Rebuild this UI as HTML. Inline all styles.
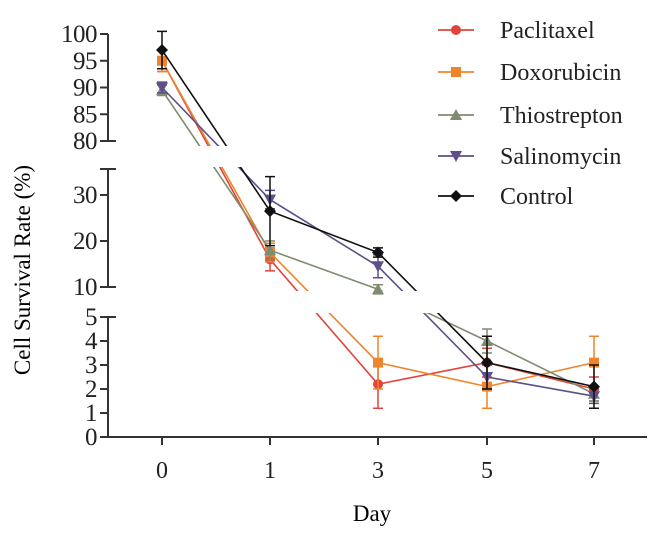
<!DOCTYPE html>
<html><head><meta charset="utf-8"><style>
body{margin:0;background:#fff}
svg{display:block;font-family:"Liberation Serif",serif}
</style></head><body>
<svg id="chart" width="667" height="533" viewBox="0 0 667 533">
<defs>
<clipPath id="cTop"><rect x="110" y="20" width="540" height="126"/></clipPath>
<clipPath id="cMid"><rect x="110" y="167" width="540" height="124"/></clipPath>
<clipPath id="cBot"><rect x="110" y="313" width="540" height="130"/></clipPath>
</defs>
<g id="axes"></g>
<g id="series"></g>
<g id="legend"></g>
<text x="30" y="270" font-size="23" text-anchor="middle" transform="rotate(-90 30 270)">Cell  Survival Rate  (%)</text>
<text x="372" y="521" font-size="23" text-anchor="middle">Day</text>
</svg>
<script>
const categories=["0","1","3","5","7"];
const seriesNames=["Paclitaxel","Doxorubicin","Thiostrepton","Salinomycin","Control"];
const paclitaxel=[95,16,2.2,3.1,2.0];
const doxorubicin=[95,17.5,3.1,2.1,3.1];
const thiostrepton=[89.5,18,9.5,4.0,1.8];
const salinomycin=[90,29,14.5,2.5,1.7];
const control=[97,26.5,17.5,3.1,2.1];
const paclitaxelErr=[2,2.5,1.0,0.6,0.5];
const doxorubicinErr=[2,2,1.1,0.9,1.1];
const thiostreptonErr=[1,2,1,0.5,0.3];
const salinomycinErr=[1,2,2.5,0.5,0.3];
const control_err=[3.5,7.5,1,1.1,0.9];
const topTicks=[100,95,90,85,80];
const midTicks=[30,20,10];
const botTicks=[5,4,3,2,1,0];

const NS="http://www.w3.org/2000/svg";
const svg=document.getElementById('chart');
const axes=document.getElementById('axes');
const sg=document.getElementById('series');
const lg=document.getElementById('legend');
function mk(t,a,p){const e=document.createElementNS(NS,t);for(const k in a)e.setAttribute(k,a[k]);(p||svg).appendChild(e);return e;}
function X(i){return [162,270,378,487,594][i];}
function seg(v){return v>=60?0:(v>7?1:2);}
function Y(v){const s=seg(v);if(s===0)return 34+(100-v)*107/20;if(s===1)return 287-(v-10)*4.6;return 437-v*24;}
const AX="#333";
mk('line',{x1:108,y1:34,x2:108,y2:141,stroke:AX,'stroke-width':2},axes);
mk('line',{x1:108,y1:169,x2:108,y2:287,stroke:AX,'stroke-width':2},axes);
mk('line',{x1:108,y1:317,x2:108,y2:437,stroke:AX,'stroke-width':2},axes);
mk('line',{x1:100,y1:169,x2:116,y2:169,stroke:AX,'stroke-width':2},axes);
mk('line',{x1:100,y1:317,x2:116,y2:317,stroke:AX,'stroke-width':2},axes);
function ytick(v,y,end){
  mk('line',{x1:100,y1:y,x2:end?116:108,y2:y,stroke:AX,'stroke-width':2},axes);
  const t=mk('text',{x:97,y:y+8,'font-size':25,'text-anchor':'end',fill:'#222','letter-spacing':'-0.5'},axes);t.textContent=v;
  
  
}
topTicks.forEach(v=>ytick(v,34+(100-v)*107/20,v===80));
midTicks.forEach(v=>ytick(v,287-(v-10)*4.6,v===10));
botTicks.forEach(v=>ytick(v,437-v*24,false));
const xa=mk('line',{x1:108,y1:437,x2:647,y2:437,stroke:AX,'stroke-width':2},axes);

categories.forEach((c,i)=>{
  mk('line',{x1:X(i),y1:437,x2:X(i),y2:445,stroke:AX,'stroke-width':2},axes);
  const t=mk('text',{x:X(i),y:478,'font-size':24,'text-anchor':'middle',fill:'#222'},axes);t.textContent=c;
  
  
});
const colors=["#e0443a","#f0842c","#7e8c70","#5e4e8a","#111"];
const data=[paclitaxel,doxorubicin,thiostrepton,salinomycin,control];
const errs=[paclitaxelErr,doxorubicinErr,thiostreptonErr,salinomycinErr,control_err];
function marker(k,x,y,p){
  const c=colors[k];let e;
  if(k===0)e=mk('circle',{cx:x,cy:y,r:5,fill:c},p);
  else if(k===1)e=mk('rect',{x:x-5,y:y-5,width:10,height:10,fill:c},p);
  else if(k===2)e=mk('polygon',{points:`${x},${y-6} ${x-6},${y+5} ${x+6},${y+5}`,fill:c},p);
  else if(k===3)e=mk('polygon',{points:`${x},${y+6} ${x-6},${y-5} ${x+6},${y-5}`,fill:c},p);
  else e=mk('polygon',{points:`${x},${y-6} ${x+6},${y} ${x},${y+6} ${x-6},${y}`,fill:c},p);
  return e;
}
data.forEach((d,k)=>{
  const g=mk('g',{},sg);
  
  
  let pts=d.map((v,i)=>X(i)+','+Y(v)).join(' ');
  ['cTop','cMid','cBot'].forEach(cp=>{
    mk('polyline',{points:pts,fill:'none',stroke:colors[k],'stroke-width':1.6,'clip-path':`url(#${cp})`},g);
  });
  d.forEach((v,i)=>{
    const e=errs[k][i],x=X(i),y1=Y(v+e),y2=Y(Math.max(v-e,0));
    const eb=mk('path',{d:`M${x},${y1}V${y2}M${x-5},${y1}H${x+5}M${x-5},${y2}H${x+5}`,stroke:colors[k],'stroke-width':1.5,fill:'none'},g);
    
    const m=marker(k,x,Y(v),g);
    
    
  });
});
const ly=[30,72,115,156,196];
seriesNames.forEach((n,k)=>{
  const g=mk('g',{},lg);
  
  
  mk('line',{x1:438,y1:ly[k],x2:474,y2:ly[k],stroke:colors[k],'stroke-width':1.8},g);
  marker(k,456,ly[k],g);
  const t=mk('text',{x:500,y:ly[k]+8,'font-size':24,fill:'#222'},g);t.textContent=n;
});
</script>
</body></html>
